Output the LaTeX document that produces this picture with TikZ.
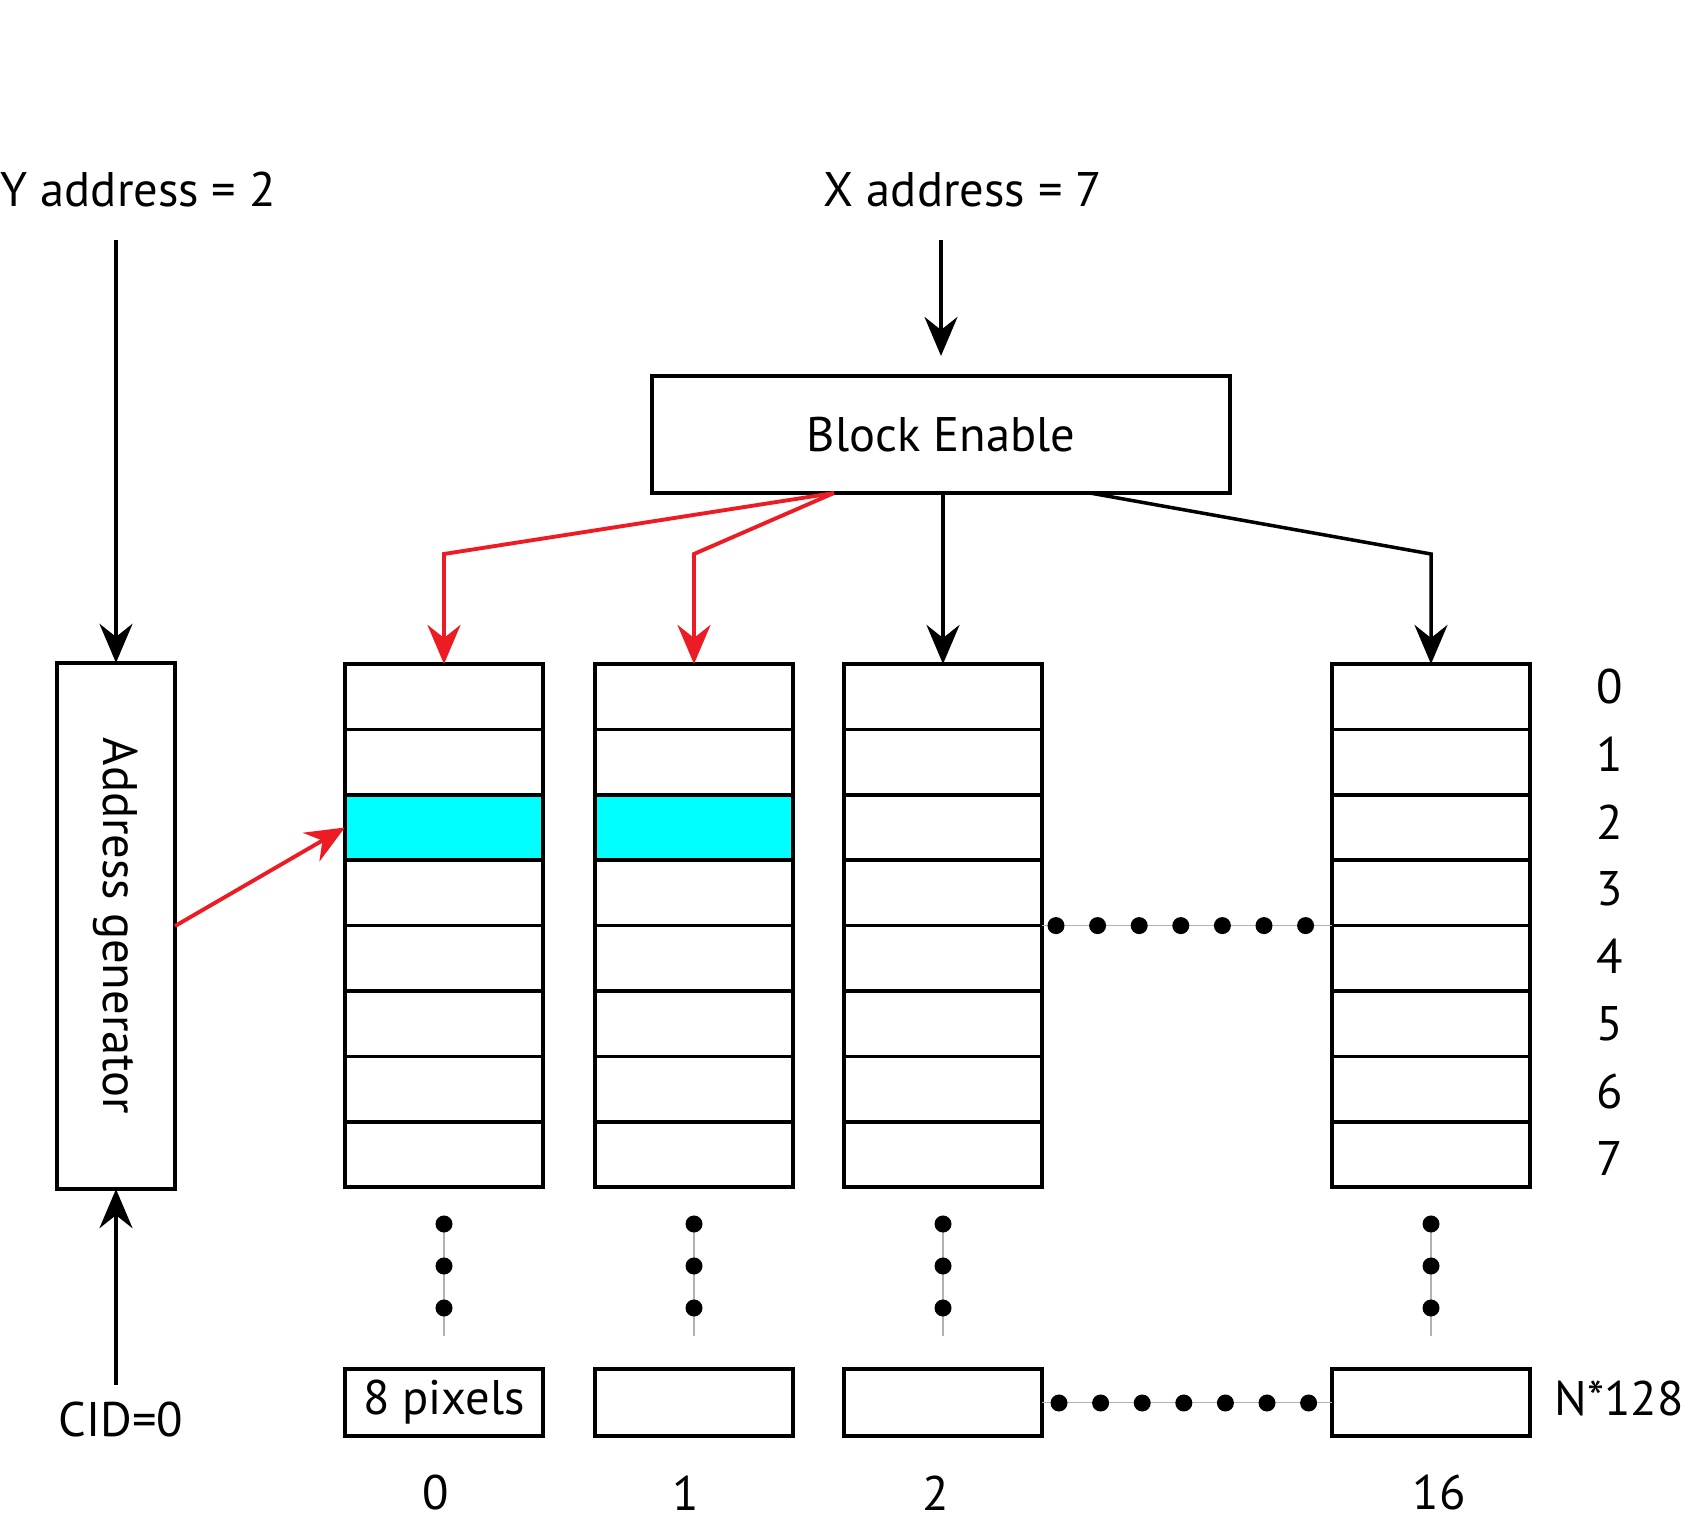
\documentclass[tikz,border=0pt]{standalone}
\usepackage{fontspec}
\setmainfont{PT Sans}
\usetikzlibrary{arrows.meta, positioning}
\usepackage{xcolor}

\definecolor{sigred}{HTML}{ED1C24}
\definecolor{selcyan}{HTML}{00FFFF}
\newcommand\diagfont{\fontsize{13.8}{16}\selectfont}

\tikzset{
  outline/.style={draw, line width=1.05pt, inner sep=0pt, outer sep=0pt},
  cell/.style={outline, minimum width=1.98cm, minimum height=0.654cm},
  conn/.style={line width=1pt, -{Stealth[length=3.9mm, width=3.3mm, inset=1.3mm]}},
  redconn/.style={conn, draw=sigred, line width=1.1pt},
  guide/.style={draw=black!30, line width=0.4pt},
  bigdot/.style={circle, fill=black, inner sep=0pt, minimum size=0.17cm},
}

\begin{document}
\begin{tikzpicture}[x=0.01cm, y=-0.01cm, font=\diagfont]
  \useasboundingbox (0,0) rectangle (1684,1525);

  % address inputs
  \node[anchor=west, inner sep=0pt] (yaddr) at (0,190) {Y address = 2};
  \node (xaddr) at (963,190) {X address = 7};
  \coordinate (yin) at (116,240);
  \coordinate (xin) at (941,240);
  \coordinate (cidin) at (116,1385);
  \coordinate (kink) at (0,554);

  \node[outline, minimum width=5.78cm, minimum height=1.17cm] (enable) at (941,434.5) {Block Enable};
  \node[outline, minimum width=1.18cm, minimum height=5.26cm] (addrgen) at (116,926) {\rotatebox{-90}{Address generator}};
  \node (cid) at (121,1420) {CID=0};

  % memory columns
  \foreach \c/\x/\lx in {0/444/436, 1/694/686, 2/943/936, 16/1431/1439} {
    \foreach \r in {0,...,7}
      \node[cell] (c\c-\r) at (\x, {664+65.4*(\r+0.5)}) {};
    \node[cell, minimum height=0.67cm] (b\c) at (\x,1402.5) {};
    \node (lab\c) at (\lx,1493) {\c};
    % vertical dots
    \draw[guide] (\x,1224) -- (\x,1336);
    \foreach \k in {0,1,2}
      \node[bigdot] (v\c-\k) at (\x, {1224+42*\k}) {};
  }
  \node at (b0) {8 pixels};

  % selected row
  \foreach \c in {0,1}
    \draw[outline, fill=selcyan] (c\c-2.north west) rectangle (c\c-2.south east);

  % row numbers
  \foreach \r in {0,...,7}
    \node (row\r) at (1610, {687+67.4*\r}) {\r};
  \node (lines) at (1619,1398) {N*128};

  % horizontal dots
  \draw[guide] (c2-3.south east) -- (c16-3.south west);
  \draw[guide] (b2.east) -- (b16.west);
  \foreach \k in {0,...,6} {
    \node[bigdot] (h\k) at ({1056+41.6*\k}, 925.6) {};
    \node[bigdot] (hb\k) at ({1059+41.6*\k}, 1403) {};
  }

  % connectors
  \draw[conn] (yin) -- (addrgen.north);
  \draw[conn] (cidin) -- (addrgen.south);
  \draw[conn, shorten >=0.2cm] (xin) -- (enable.north);
  \draw[conn] (enable.south -| c2-0.north) -- (c2-0.north);
  \draw[conn] ([xshift=1.49cm]enable.south) -- (c16-0.north |- kink) -- (c16-0.north);
  \coordinate (redsrc) at ([xshift=-1.07cm]enable.south);
  \draw[redconn] (redsrc) -- (c0-0.north |- kink) -- (c0-0.north);
  \draw[redconn] (redsrc) -- (c1-0.north |- kink) -- (c1-0.north);
  \draw[redconn] (addrgen.east) -- (c0-2.west);
\end{tikzpicture}
\end{document}
